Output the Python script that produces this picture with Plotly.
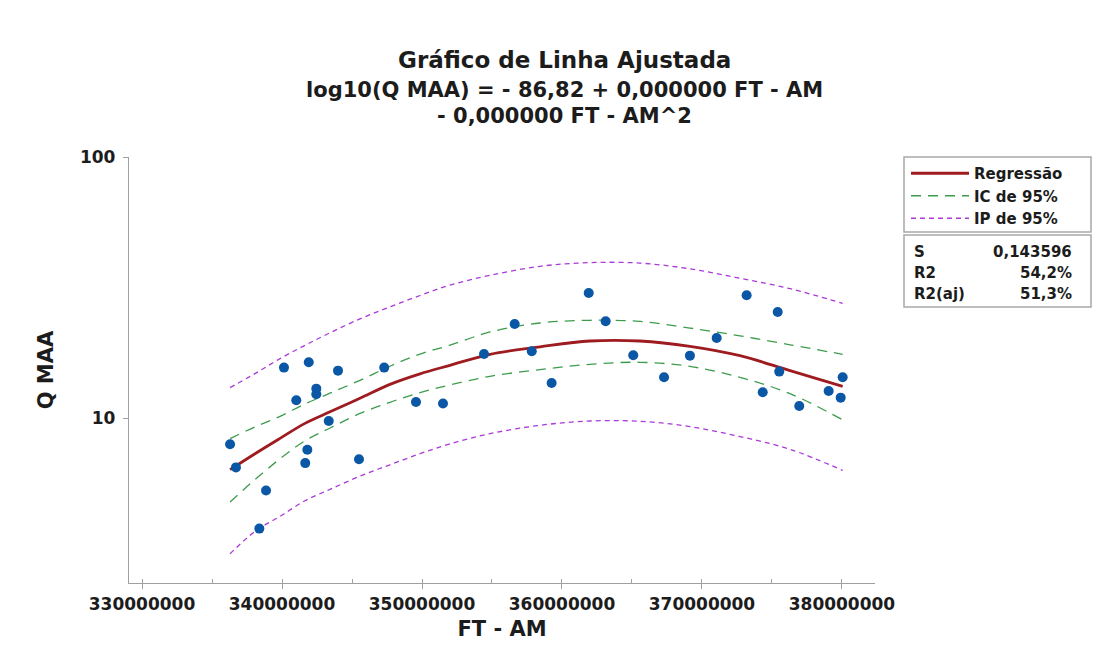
import plotly.graph_objects as go

# ---------------- data ----------------
ft_am = [336290000, 336710000, 338380000, 338860000, 340140000, 341020000, 341660000,
         341810000, 341910000, 342450000, 342450000, 343340000, 344000000, 345500000,
         347300000, 349570000, 351500000, 354430000, 356620000, 357840000, 359260000,
         361910000, 363120000, 365090000, 367290000, 369140000, 371050000, 373190000,
         374340000, 375410000, 375520000, 376950000, 379050000, 379910000, 380050000]
q_maa = [7.93, 6.47, 3.77, 5.28, 15.60, 11.69, 6.72,
         7.56, 16.35, 12.96, 12.33, 9.74, 15.19, 6.95,
         15.60, 11.52, 11.36, 17.59, 22.93, 18.01, 13.62,
         30.13, 23.47, 17.39, 14.32, 17.34, 20.26, 29.52,
         12.55, 25.48, 15.06, 11.12, 12.69, 11.97, 14.32]

fit_x = [336290000, 338070000, 339860000, 341640000, 343430000, 345570000, 347710000,
         349860000, 352000000, 354860000, 358430000, 362000000, 365570000, 369140000,
         372710000, 376290000, 380050000]
fit_y = [6.34, 7.30, 8.36, 9.54, 10.56, 11.90, 13.46, 14.77, 15.92, 17.54, 18.74,
         19.73, 19.73, 18.83, 17.33, 15.19, 13.22]
ci_upper = [8.34, 9.25, 10.15, 11.32, 12.45, 13.95, 15.79, 17.57, 19.02, 21.36, 23.12,
            23.68, 23.45, 22.12, 20.65, 19.08, 17.54]
ci_lower = [4.77, 5.81, 6.98, 8.18, 9.16, 10.41, 11.49, 12.51, 13.39, 14.45, 15.33,
            16.06, 16.35, 15.77, 14.32, 12.40, 9.84]
pi_upper = [13.08, 14.80, 16.89, 18.99, 21.21, 23.99, 26.65, 29.47, 32.30, 35.22, 38.13,
            39.39, 39.22, 37.30, 34.30, 31.29, 27.51]
pi_lower = [3.02, 3.68, 4.20, 4.82, 5.33, 5.99, 6.62, 7.30, 7.96, 8.71, 9.38,
            9.74, 9.72, 9.27, 8.49, 7.59, 6.30]

x_ticks = [330000000, 340000000, 350000000, 360000000, 370000000, 380000000]
x_ticktext = ["330000000", "340000000", "350000000", "360000000", "370000000", "380000000"]
y_ticks = [10, 100]
y_ticktext = ["10", "100"]

title_lines = ["Gráfico de Linha Ajustada",
               "log10(Q MAA) = - 86,82 + 0,000000 FT - AM",
               "- 0,000000 FT - AM^2"]
legend_names = ["Regressão", "IC de 95%", "IP de 95%"]
stats_labels = ["S", "R2", "R2(aj)"]
stats_values = ["0,143596", "54,2%", "51,3%"]
x_title = "FT - AM"
y_title = "Q MAA"

# ---------------- styling ----------------
FONT = "DejaVu Sans"
TXT = "#1c1c1c"
RED = "#9e1b1f"
GREEN = "#3c9c4c"
PURPLE = "#a93ad8"
BLUE = "#0a57a6"
AXIS = "#a0a0a0"

OFF = 8                      # page body margin of the html page
W, H = 1104 - OFF, 662 - OFF
L, R, T, B = 129, 875, 157, 583  # plot area in screen pixels


def px_x(p):
    return (p - L) / (R - L)


def px_y(p):
    return (B - p) / (B - T)


fig = go.Figure()

fig.add_trace(go.Scatter(x=fit_x, y=pi_upper, mode="lines", name=legend_names[2],
                         legendgroup="ip", legendrank=3,
                         line=dict(color=PURPLE, width=1.3, dash="5px,4px", shape="spline")))
fig.add_trace(go.Scatter(x=fit_x, y=pi_lower, mode="lines", name=legend_names[2],
                         legendgroup="ip", showlegend=False,
                         line=dict(color=PURPLE, width=1.3, dash="5px,4px", shape="spline")))
fig.add_trace(go.Scatter(x=fit_x, y=ci_upper, mode="lines", name=legend_names[1],
                         legendgroup="ic", legendrank=2,
                         line=dict(color=GREEN, width=1.3, dash="10px,7px", shape="spline")))
fig.add_trace(go.Scatter(x=fit_x, y=ci_lower, mode="lines", name=legend_names[1],
                         legendgroup="ic", showlegend=False,
                         line=dict(color=GREEN, width=1.3, dash="10px,7px", shape="spline")))
fig.add_trace(go.Scatter(x=fit_x, y=fit_y, mode="lines", name=legend_names[0],
                         legendrank=1,
                         line=dict(color=RED, width=2.8, shape="spline")))
fig.add_trace(go.Scatter(x=ft_am, y=q_maa, mode="markers", name="Q MAA", showlegend=False,
                         marker=dict(color=BLUE, size=10, line=dict(width=0))))

annotations = []
# title lines
for text, ypx, size in zip(title_lines, [60, 90, 116], [23, 21, 21]):
    annotations.append(dict(x=px_x(564), y=px_y(ypx), xref="paper", yref="paper",
                            text=f"<b>{text}</b>", showarrow=False, xanchor="center",
                            yanchor="middle", font=dict(family=FONT, size=size, color=TXT)))
# statistics box text
for lab, val, ypx in zip(stats_labels, stats_values, [252, 273, 294]):
    annotations.append(dict(x=px_x(912), y=px_y(ypx), xref="paper", yref="paper",
                            text=f"<b>{lab}</b>", showarrow=False, xanchor="left",
                            yanchor="middle", font=dict(family=FONT, size=15, color=TXT)))
    annotations.append(dict(x=px_x(1074), y=px_y(ypx), xref="paper", yref="paper",
                            text=f"<b>{val}</b>", showarrow=False, xanchor="right",
                            yanchor="middle", font=dict(family=FONT, size=15, color=TXT)))

shapes = [
    dict(type="rect", xref="paper", yref="paper", x0=px_x(904), x1=px_x(1091),
         y0=px_y(157), y1=px_y(232), line=dict(color="#a8a8a8", width=1.5)),
    dict(type="rect", xref="paper", yref="paper", x0=px_x(904), x1=px_x(1091),
         y0=px_y(235), y1=px_y(307), line=dict(color="#a8a8a8", width=1.5)),
]

fig.update_layout(
    width=W, height=H,
    margin=dict(l=L - OFF, r=W - (R - OFF), t=T - OFF, b=H - (B - OFF), autoexpand=False),
    paper_bgcolor="white", plot_bgcolor="white",
    font=dict(family=FONT, color=TXT),
    showlegend=True,
    legend=dict(x=px_x(906), y=px_y(157), xanchor="left", yanchor="top",
                xref="paper", yref="paper",
                bgcolor="rgba(0,0,0,0)", borderwidth=0, itemwidth=58,
                font=dict(family=FONT, size=15, color=TXT, weight="bold"),
                tracegroupgap=0, traceorder="normal"),
    annotations=annotations,
    shapes=shapes,
)

fig.update_xaxes(
    range=[329070000, 382360000], showgrid=False, zeroline=False,
    showline=True, linecolor=AXIS, linewidth=1.3,
    tickmode="array", tickvals=x_ticks, ticktext=x_ticktext,
    ticks="outside", ticklen=5, tickcolor=AXIS, tickwidth=1,
    minor=dict(dtick=5000000, tick0=335000000, ticks="inside", ticklen=4,
               tickcolor=AXIS, tickwidth=1, showgrid=False),
    tickfont=dict(family=FONT, size=17, color=TXT, weight="bold"),
    title=dict(text=f"<b>{x_title}</b>", standoff=8,
               font=dict(family=FONT, size=21, color=TXT)),
)
fig.update_yaxes(
    type="log", range=[0.368, 2.0], showgrid=False, zeroline=False,
    showline=True, linecolor=AXIS, linewidth=1.3,
    tickmode="array", tickvals=y_ticks, ticktext=y_ticktext,
    ticks="outside", ticklen=5, tickcolor=AXIS, tickwidth=1, ticklabelstandoff=4,
    tickfont=dict(family=FONT, size=17, color=TXT, weight="bold"),
    title=dict(text=f"<b>{y_title}</b>", standoff=20,
               font=dict(family=FONT, size=21, color=TXT)),
)

fig.write_html("out.html")
